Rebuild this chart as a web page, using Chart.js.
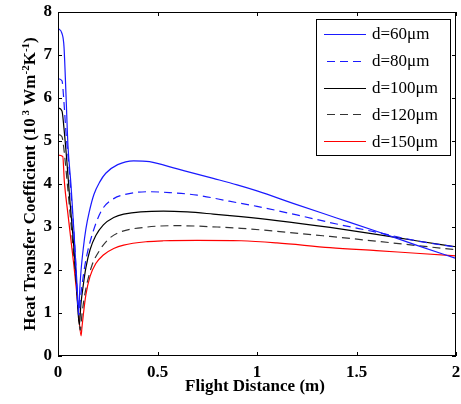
<!DOCTYPE html>
<html lang="en">
<head>
<meta charset="UTF-8">
<title>Heat Transfer Coefficient vs Flight Distance</title>
<style>
    html, body { margin: 0; padding: 0; background: #fff; }
    #chartContainer { width: 461px; height: 404px; }
</style>
</head>
<body>
<div id="chartContainer">
    <canvas id="htcChart"></canvas>
</div>
<script src="https://cdn.jsdelivr.net/npm/chart.js"></script>
<script>
// Values
const labels = ['d=60\u03bcm', 'd=80\u03bcm', 'd=100\u03bcm', 'd=120\u03bcm', 'd=150\u03bcm'];

const dist60 = [0, 0.02, 0.03, 0.04, 0.05, 0.065, 0.08, 0.095, 0.104, 0.11, 0.116, 0.127, 0.14, 0.157, 0.18, 0.21, 0.24, 0.3, 0.38, 0.46, 0.6, 0.78, 0.9, 1.0, 1.2, 1.4, 1.6, 1.8, 2.0];
const heat60 = [7.62, 7.5, 7.2, 6.1, 4.9, 4.0, 2.9, 1.7, 1.03, 1.6, 2.0, 2.5, 2.95, 3.35, 3.75, 4.05, 4.25, 4.45, 4.54, 4.52, 4.35, 4.13, 3.98, 3.84, 3.52, 3.21, 2.9, 2.58, 2.27];

const dist80 = [0, 0.02, 0.03, 0.04, 0.055, 0.07, 0.085, 0.105, 0.112, 0.12, 0.135, 0.15, 0.177, 0.2, 0.228, 0.28, 0.33, 0.45, 0.56, 0.7, 0.86, 1.0, 1.2, 1.4, 1.6, 1.8, 2.0];
const heat80 = [6.45, 6.4, 5.9, 5.2, 4.4, 3.5, 2.5, 0.95, 1.3, 1.62, 2.1, 2.45, 2.9, 3.2, 3.45, 3.66, 3.75, 3.82, 3.8, 3.74, 3.6, 3.48, 3.28, 3.07, 2.88, 2.68, 2.53];

const dist100 = [0, 0.02, 0.03, 0.045, 0.06, 0.075, 0.09, 0.107, 0.115, 0.127, 0.14, 0.161, 0.19, 0.228, 0.28, 0.33, 0.53, 0.65, 0.78, 0.92, 1.1, 1.367, 1.6, 1.8, 2.0];
const heat100 = [5.77, 5.7, 5.3, 4.5, 3.6, 2.8, 1.9, 0.72, 1.2, 1.65, 2.05, 2.47, 2.8, 3.05, 3.22, 3.3, 3.37, 3.35, 3.3, 3.24, 3.15, 2.99, 2.83, 2.68, 2.54];

const dist120 = [0, 0.02, 0.03, 0.045, 0.06, 0.08, 0.095, 0.112, 0.12, 0.13, 0.144, 0.17, 0.211, 0.25, 0.3, 0.45, 0.61, 0.8, 0.92, 1.1, 1.367, 1.6, 1.8, 2.0];
const heat120 = [5.15, 5.1, 4.8, 4.1, 3.35, 2.3, 1.5, 0.6, 0.95, 1.3, 1.65, 2.1, 2.47, 2.7, 2.86, 3.0, 3.03, 3.0, 2.97, 2.9, 2.78, 2.67, 2.57, 2.47];

const dist150 = [0, 0.024, 0.032, 0.05, 0.065, 0.08, 0.1, 0.116, 0.12, 0.127, 0.14, 0.161, 0.19, 0.228, 0.28, 0.33, 0.45, 0.53, 0.7, 0.92, 1.1, 1.367, 1.6, 1.8, 2.0];
const heat150 = [4.67, 4.64, 4.05, 3.3, 2.7, 2.1, 1.2, 0.47, 0.65, 0.95, 1.42, 1.85, 2.15, 2.35, 2.5, 2.58, 2.66, 2.68, 2.69, 2.68, 2.63, 2.52, 2.45, 2.39, 2.33];

const xTicks = [0, 0.5, 1, 1.5, 2];
const xTickLabels = ['0', '0.5', '1', '1.5', '2'];
const yTicks = [0, 1, 2, 3, 4, 5, 6, 7, 8];

const serif = '"Liberation Serif", "Times New Roman", serif';

function toPoints(xs, ys) {
    return xs.map((x, i) => ({ x: x, y: ys[i] }));
}

function makeSet(label, xs, ys, color, dash) {
    return {
        label: label,
        data: toPoints(xs, ys),
        borderColor: color,
        backgroundColor: color,
        borderWidth: 1.2,
        borderDash: dash,
        pointRadius: 0,
        fill: false,
        cubicInterpolationMode: 'monotone'
    };
}

// box, inward ticks, axis titles and legend like the MATLAB figure
const framePlugin = {
    id: 'frame',
    afterDraw(chart) {
        const ctx = chart.ctx;
        const a = chart.chartArea;
        const xs = chart.scales.x;
        const ys = chart.scales.y;
        ctx.save();
        ctx.strokeStyle = '#000';
        ctx.lineWidth = 1;
        ctx.strokeRect(a.left + 0.5, a.top + 0.5, a.right - a.left - 1, a.bottom - a.top - 1);
        ctx.beginPath();
        xTicks.forEach(v => {
            const px = Math.round(xs.getPixelForValue(v)) + 0.5;
            ctx.moveTo(px, a.bottom); ctx.lineTo(px, a.bottom - 4);
            ctx.moveTo(px, a.top); ctx.lineTo(px, a.top + 4);
        });
        yTicks.forEach(v => {
            const py = Math.round(ys.getPixelForValue(v)) + 0.5;
            ctx.moveTo(a.left, py); ctx.lineTo(a.left + 4, py);
            ctx.moveTo(a.right, py); ctx.lineTo(a.right - 4, py);
        });
        ctx.stroke();

        // x title
        ctx.fillStyle = '#000';
        ctx.font = 'bold 17px ' + serif;
        ctx.textAlign = 'center';
        ctx.textBaseline = 'middle';
        ctx.fillText('Flight Distance (m)', (a.left + a.right) / 2 - 2, 387);

        // y title with superscripts
        const parts = [
            ['Heat Transfer Coefficient (10', false],
            [' 3', true],
            [' Wm', false],
            ['-2', true],
            ['K', false],
            ['-1', true],
            [')', false]
        ];
        const normFont = 'bold 17px ' + serif;
        const supFont = 'bold 11px ' + serif;
        let total = 0;
        parts.forEach(p => {
            ctx.font = p[1] ? supFont : normFont;
            total += ctx.measureText(p[0]).width;
        });
        ctx.translate(29, (a.top + a.bottom) / 2);
        ctx.rotate(-Math.PI / 2);
        ctx.textAlign = 'left';
        ctx.textBaseline = 'alphabetic';
        let cx = -total / 2;
        parts.forEach(p => {
            ctx.font = p[1] ? supFont : normFont;
            ctx.fillText(p[0], cx, p[1] ? 0 : 6);
            cx += ctx.measureText(p[0]).width;
        });
        ctx.setTransform(1, 0, 0, 1, 0, 0);

        // legend box
        const lx = 316, ly = 19, lw = 134, lh = 136;
        ctx.fillStyle = '#fff';
        ctx.fillRect(lx, ly, lw, lh);
        ctx.strokeStyle = '#000';
        ctx.strokeRect(lx + 0.5, ly + 0.5, lw, lh);
        ctx.font = '17px ' + serif;
        ctx.textBaseline = 'middle';
        chart.data.datasets.forEach((ds, i) => {
            const y = ly + 15 + i * 26.8;
            ctx.beginPath();
            ctx.strokeStyle = ds.borderColor;
            ctx.lineWidth = 1.2;
            ctx.setLineDash(ds.borderDash || []);
            ctx.lineDashOffset = ds.borderDash.length ? -3 : 0;
            ctx.moveTo(324, Math.round(y) + 0.5);
            ctx.lineTo(366, Math.round(y) + 0.5);
            ctx.stroke();
            ctx.setLineDash([]);
            ctx.fillStyle = '#000';
            ctx.fillText(ds.label, 372, y + 1);
        });
        ctx.restore();
    }
};

const ctx = document.getElementById('htcChart').getContext('2d');
const chart = new Chart(ctx, {
    type: 'line',
    data: {
        datasets: [
            makeSet(labels[0], dist60, heat60, '#1a1aff', []),
            makeSet(labels[1], dist80, heat80, '#1a1aff', [8, 5]),
            makeSet(labels[2], dist100, heat100, '#000000', []),
            makeSet(labels[3], dist120, heat120, '#333333', [8, 5]),
            makeSet(labels[4], dist150, heat150, '#ff0000', [])
        ]
    },
    options: {
        responsive: true,
        maintainAspectRatio: false,
        animation: false,
        layout: { padding: { top: 12, right: 5, left: 0, bottom: 0 } },
        plugins: {
            legend: { display: false },
            tooltip: { enabled: false }
        },
        scales: {
            x: {
                type: 'linear',
                min: 0,
                max: 2,
                afterFit: scale => { scale.height = 48; scale.paddingRight = 0; scale.paddingLeft = 0; },
                afterBuildTicks: scale => { scale.ticks = xTicks.map(v => ({ value: v })); },
                grid: { display: false, drawTicks: false },
                border: { display: false },
                ticks: {
                    color: '#000', padding: 6, maxRotation: 0,
                    callback: (v, i) => xTickLabels[i],
                    font: { family: serif, size: 17, weight: 'bold' }
                }
            },
            y: {
                type: 'linear',
                min: 0,
                max: 8,
                afterFit: scale => { scale.width = 58; scale.paddingTop = 0; scale.paddingBottom = 0; },
                afterBuildTicks: scale => { scale.ticks = yTicks.map(v => ({ value: v })); },
                grid: { display: false, drawTicks: false },
                border: { display: false },
                ticks: { color: '#000', padding: 6, font: { family: serif, size: 17, weight: 'bold' } }
            }
        }
    },
    plugins: [framePlugin]
});
</script>
</body>
</html>
